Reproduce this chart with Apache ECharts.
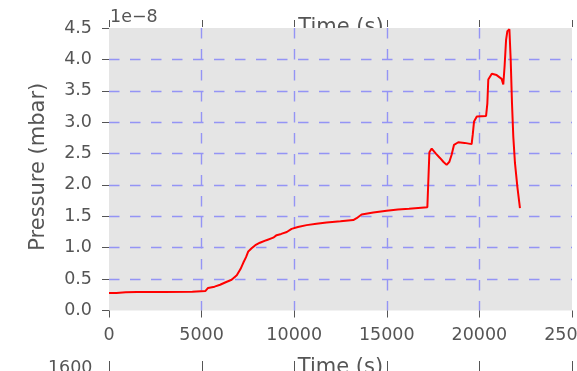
<!DOCTYPE html>
<html>
<head>
<meta charset="utf-8">
<script src="https://cdn.jsdelivr.net/npm/echarts@6/dist/echarts.min.js"></script>
<style>
  html, body { margin: 0; padding: 0; background: #ffffff; }
  #chart { width: 577px; height: 371px; }
</style>
</head>
<body>
<div id="chart"></div>
<script>
// Chamber pressure log (pressure in units of 1e-8 mbar)
const TIME_S = [
  0, 400, 900, 1500, 3000, 4500, 5200, 5350, 5700, 6000,
  6300, 6620, 6900, 7100, 7250, 7400, 7520, 7700, 7900, 8150,
  8500, 8870, 9050, 9300, 9600, 9860, 10200, 10670, 11200, 11750,
  12500, 13190, 13370, 13640, 14270, 14990, 15600, 16200, 17190, 17300,
  17425, 17650, 17870, 18050, 18230, 18380, 18500, 18630, 18860, 19200,
  19580, 19640, 19710, 19860, 20360, 20430, 20480, 20670, 20930, 21200,
  21290, 21360, 21440, 21510, 21620, 21690, 21760, 21830, 21920, 22050,
  22190
];
const PRESSURE_E8 = [
  0.28, 0.28, 0.29, 0.295, 0.295, 0.30, 0.31, 0.36, 0.38, 0.41,
  0.45, 0.49, 0.56, 0.66, 0.76, 0.85, 0.94, 0.99, 1.04, 1.08,
  1.12, 1.16, 1.20, 1.22, 1.25, 1.30, 1.33, 1.36, 1.38, 1.40,
  1.42, 1.44, 1.47, 1.53, 1.56, 1.59, 1.61, 1.62, 1.645, 2.52,
  2.58, 2.50, 2.43, 2.37, 2.32, 2.37, 2.48, 2.64, 2.68, 2.67,
  2.65, 2.80, 3.01, 3.09, 3.10, 3.30, 3.68, 3.77, 3.75, 3.69,
  3.60, 3.89, 4.31, 4.45, 4.48, 3.99, 3.30, 2.77, 2.35, 1.97,
  1.63
];

const X_TICKS = [0, 5000, 10000, 15000, 20000, 25000];
const Y_TICKS = [0, 0.5, 1.0, 1.5, 2.0, 2.5, 3.0, 3.5, 4.0, 4.5];
const X_LABEL = 'Time (s)';
const Y_LABEL = 'Pressure (mbar)';
const OFFSET_TEXT = '1e\u22128';
const LOWER_PANEL_TICK = '1600';

const FONT = '"DejaVu Sans", "Liberation Sans", sans-serif';
const TEXT_GREY = '#555555';
const GRID_BLUE = '#9494f5';

const chart = echarts.init(document.getElementById('chart'), null, { renderer: 'canvas' });

const gridLineStyle = { color: GRID_BLUE, width: 1.4, type: [10.5, 10.5] };

const option = {
  animation: false,
  backgroundColor: '#ffffff',
  grid: {
    left: 109, right: 5, top: 28, bottom: 60.5,
    show: true, backgroundColor: '#e5e5e5', borderWidth: 0,
    containLabel: false, outerBoundsMode: 'none'
  },
  xAxis: {
    type: 'value',
    min: X_TICKS[0], max: X_TICKS[X_TICKS.length - 1],
    interval: X_TICKS[1] - X_TICKS[0],
    name: X_LABEL, nameLocation: 'middle', nameGap: 47,
    nameTextStyle: { fontFamily: FONT, fontSize: 21, color: TEXT_GREY },
    axisLine: { show: false },
    axisTick: { show: true, length: 7, inside: false, lineStyle: { color: TEXT_GREY, width: 1 } },
    axisLabel: {
      margin: 16, fontFamily: FONT, fontSize: 17.5, color: TEXT_GREY,
      showMinLabel: true, showMaxLabel: true,
      formatter: v => String(v)
    },
    splitLine: { show: true, showMinLine: false, showMaxLine: false, lineStyle: gridLineStyle }
  },
  yAxis: {
    type: 'value',
    min: Y_TICKS[0], max: Y_TICKS[Y_TICKS.length - 1],
    interval: Y_TICKS[1] - Y_TICKS[0],
    name: Y_LABEL, nameLocation: 'middle', nameGap: 60, nameRotate: 90,
    nameTextStyle: { fontFamily: FONT, fontSize: 21, color: TEXT_GREY, padding: [0, 0, 0, 5] },
    axisLine: { show: false },
    axisTick: { show: true, length: 7, inside: false, lineStyle: { color: TEXT_GREY, width: 1 } },
    axisLabel: {
      margin: 17, fontFamily: FONT, fontSize: 17.5, color: TEXT_GREY,
      showMinLabel: true, showMaxLabel: true,
      formatter: v => v.toFixed(1)
    },
    splitLine: { show: true, showMinLine: false, showMaxLine: false, lineStyle: gridLineStyle }
  },
  series: [{
    type: 'line',
    data: TIME_S.map((t, i) => [t, PRESSURE_E8[i]]),
    showSymbol: false,
    smooth: false,
    lineStyle: { color: '#ff0000', width: 2 },
    itemStyle: { color: '#ff0000' },
    z: 3
  }]
};

chart.setOption(option);

// Neighbouring panels: tick marks and labels that spill into this one
const tickPx = X_TICKS.map(v => Math.round(chart.convertToPixel({ xAxisIndex: 0 }, v)) + 0.5);
const leftPx = tickPx[0];
const midPx = (tickPx[0] + tickPx[tickPx.length - 1]) / 2;

const graphics = [
  {
    type: 'text', z: -1, silent: true,
    style: {
      text: X_LABEL, x: midPx, y: 27.7,
      font: '21px ' + FONT, fill: TEXT_GREY,
      align: 'center', verticalAlign: 'middle',
      textAlign: 'center', textVerticalAlign: 'middle'
    }
  },
  {
    type: 'text', silent: true,
    style: {
      text: OFFSET_TEXT, x: leftPx + 0.5, y: 17.3,
      font: '17.5px ' + FONT, fill: TEXT_GREY,
      align: 'left', verticalAlign: 'middle',
      textAlign: 'left', textVerticalAlign: 'middle'
    }
  },
  {
    type: 'text', silent: true,
    style: {
      text: LOWER_PANEL_TICK, x: leftPx - 17, y: 368,
      font: '17.5px ' + FONT, fill: TEXT_GREY,
      align: 'right', verticalAlign: 'middle',
      textAlign: 'right', textVerticalAlign: 'middle'
    }
  }
];
tickPx.forEach(x => {
  graphics.push({
    type: 'line', silent: true,
    shape: { x1: x, y1: 20, x2: x, y2: 27 },
    style: { stroke: TEXT_GREY, lineWidth: 1 }
  });
  graphics.push({
    type: 'line', silent: true, z: 5,
    shape: { x1: x, y1: 361, x2: x, y2: 371 },
    style: { stroke: TEXT_GREY, lineWidth: 1 }
  });
});

chart.setOption({ graphic: { elements: graphics } });
</script>
</body>
</html>
